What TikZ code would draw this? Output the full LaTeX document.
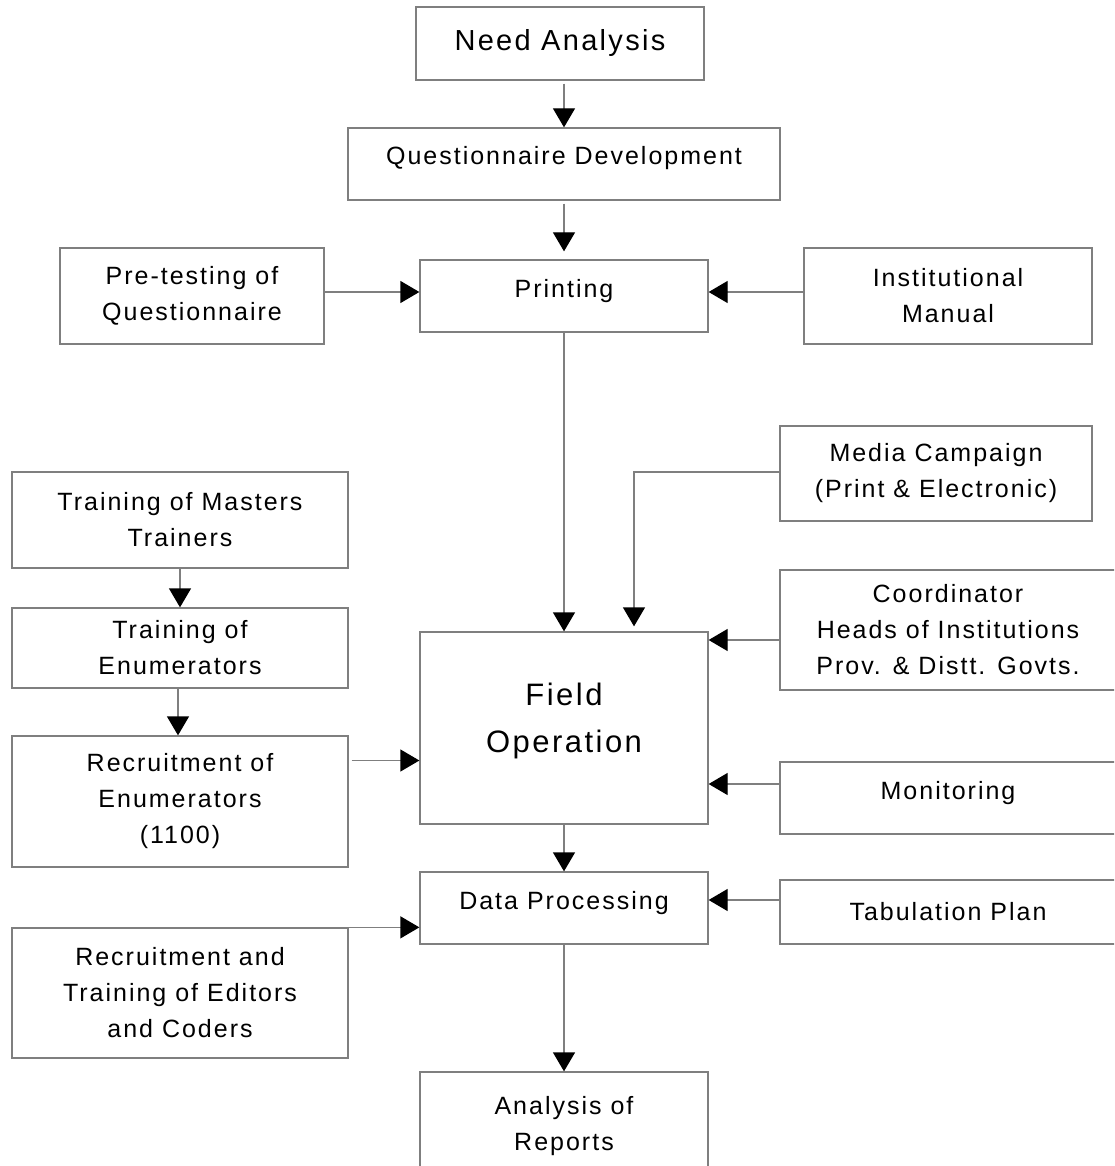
\documentclass[tikz,border=0pt]{standalone}
\usepackage{fontspec}
\setmainfont{Liberation Sans}[LetterSpace=8]
\usetikzlibrary{arrows.meta}

\tikzset{
  box/.style={draw=boxgray, line width=1.3pt, rectangle, align=center,
    font=\fontsize{25}{36}\selectfont},
  oneline/.style={text height=18pt, text depth=16pt},
  flow/.style={draw=boxgray, line width=1.3pt,
    -{Triangle[length=19pt, width=22pt, color=black]}}
}
\definecolor{boxgray}{HTML}{7F7F7F}

\begin{document}
\begin{tikzpicture}[x=1pt, y=-1pt]
    \clip (0,0) rectangle (1114,1166);

    % Main column
    \node[box, minimum width=288pt, minimum height=73pt,
      font=\fontsize{29}{40}\selectfont] (need) at (560,43.5) {Need Analysis};
    \node[box, oneline, minimum width=432pt, minimum height=72pt] (quest) at (564,164) {Questionnaire Development};
    \node[box, oneline, minimum width=288pt, minimum height=72pt] (print) at (564,296) {Printing};
    \node[box, minimum width=288pt, minimum height=192pt,
      font=\fontsize{31}{47}\selectfont] (field) at (564,728) {Field\\Operation\rule[-20.5pt]{0pt}{0pt}};
    \node[box, oneline, minimum width=288pt, minimum height=72pt] (data) at (564,908) {Data Processing};
    \node[box, minimum width=288pt, minimum height=108pt] (analysis) at (564,1126) {Analysis of\\Reports};

    % Left column
    \node[box, minimum width=264pt, minimum height=96pt] (pretest) at (192,296) {Pre-testing of\\Questionnaire};
    \node[box, minimum width=336pt, minimum height=96pt] (masters) at (180,520) {Training of Masters\\Trainers};
    \node[box, minimum width=336pt, minimum height=80pt] (enumtrain) at (180,648) {Training of\\Enumerators};
    \node[box, minimum width=336pt, minimum height=131pt] (recruit) at (180,801.5) {Recruitment of\\Enumerators\\(1100)};
    \node[box, minimum width=336pt, minimum height=130pt] (editors) at (180,993) {Recruitment and\\Training of Editors\\and Coders};

    % Right column
    \node[box, minimum width=288pt, minimum height=96pt] (manual) at (948,296) {Institutional\\Manual};
    \node[box, minimum width=312pt, minimum height=95pt] (media) at (936,473.5) {Media Campaign\\(Print \& Electronic)};
    \node[box, minimum width=336pt, minimum height=120pt] (coord) at (948,630) {Coordinator\\Heads of Institutions\\Prov. \& Distt. Govts.};
    \node[box, oneline, minimum width=336pt, minimum height=72pt] (monitor) at (948,798) {Monitoring};
    \node[box, minimum width=336pt, minimum height=64pt] (tabul) at (948,912) {Tabulation Plan};

    % Arrows down the main column
    \draw[flow, shorten <=3pt] (need.south -| quest.north) -- (quest.north);
    \draw[flow, shorten <=3pt, shorten >=8pt] (quest) -- (print);
    \draw[flow] (print) -- (field);
    \draw[flow] (field) -- (data);
    \draw[flow] (data) -- (analysis);

    % Inputs to printing
    \draw[flow] ([yshift=4pt]pretest.east) -- ([yshift=4pt]pretest.east -| print.west);
    \draw[flow] ([yshift=4pt]manual.west) -- ([yshift=4pt]manual.west -| print.east);

    % Training chain
    \draw[flow] (masters) -- (enumtrain);
    \draw[flow] ([xshift=-2pt]enumtrain.south) -- ([xshift=-2pt]recruit.north);
    \draw[flow, shorten <=3pt] ([yshift=41pt]recruit.east) -- ([yshift=41pt]recruit.east -| field.west);

    % Inputs to field operation
    \draw[flow, shorten >=5pt] ([yshift=1.5pt]media.west) -| ([xshift=70pt]field.north);
    \draw[flow] ([yshift=-10pt]coord.west) -- ([yshift=-10pt]coord.west -| field.east);
    \draw[flow] ([yshift=14pt]monitor.west) -- ([yshift=14pt]monitor.west -| field.east);

    % Inputs to data processing
    \draw[flow] ([yshift=12pt]tabul.west) -- ([yshift=12pt]tabul.west -| data.east);
    \draw[flow] (editors.north east) -- (editors.north east -| data.west);
\end{tikzpicture}
\end{document}
